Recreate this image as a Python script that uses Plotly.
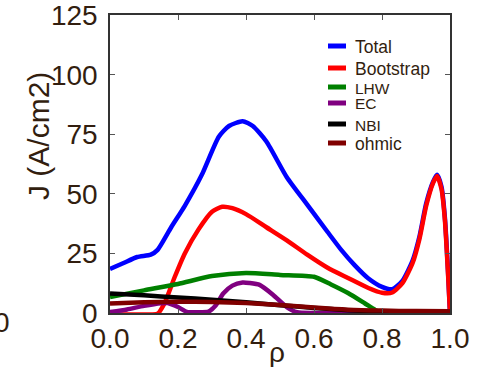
import plotly.graph_objects as go

# ---------------- data ----------------
rho_total = [0, .04, .08, .12, .14, .18, .22, .27, .32, .35, .39, .42, .46, .52, .58,
             .64, .68, .72, .76, .80, .83, .86, .89, .91, .93, .95, .962, .975, .985, .994, 1.0]
j_total = [18.5, 21, 23.5, 24.5, 26.5, 36, 45, 58, 74, 78.5, 80.5, 78.5, 72, 57, 45.5,
           34, 26.5, 20, 14.5, 11, 10, 13.5, 22, 32, 46, 55, 58, 53, 40, 18, 0]

rho_boot = [0, .05, .10, .14, .16, .19, .22, .26, .30, .33, .36, .40, .46, .52, .58,
            .64, .70, .76, .80, .83, .86, .89, .91, .93, .95, .962, .975, .985, .994, 1.0]
j_boot = [-0.6, -0.6, -0.6, -0.3, 4, 15, 25, 35, 42.5, 44.6, 44, 41.5, 36, 30.5, 24.5,
          19, 14.7, 10.5, 8.5, 8.6, 12.5, 21, 31, 45, 54.5, 57.5, 52, 39, 17, 0]

rho_lhw = [0, .1, .2, .3, .4, .5, .6, .65, .7, .75, .78, .8, .9, 1.0]
j_lhw = [6.7, 9.5, 12.2, 15.5, 16.8, 16, 15.2, 12, 8.4, 4, 1.3, 0, 0, 0]

rho_ec = [0, .05, .1, .15, .17, .2, .226, .26, .29, .31, .333, .36, .39, .41, .44,
          .48, .52, .55, .6, .8, 1.0]
j_ec = [0.4, 1.5, 3, 4.1, 4.2, 2.5, 0.5, 0.3, 0.6, 3, 8.2, 11.5, 12.8, 12.6, 11.8,
        7.6, 2.5, 0.3, 0, 0, 0]

rho_nbi = [0, .1, .2, .3, .4, .5, .6, .7, .8, .9, 1.0]
j_nbi = [8.2, 7.4, 6.5, 5.6, 4.5, 3.3, 2.1, 1.2, 0.5, 0.2, 0]

rho_ohm = [0, .1, .2, .3, .4, .5, .6, .7, .8, .9, 1.0]
j_ohm = [4, 4.5, 4.7, 4.6, 4.2, 3.4, 2.3, 1.4, 1.0, 0.8, 0.7]

series_names = ["Total", "Bootstrap", "LHW", "EC", "NBI", "ohmic"]
series_x = [rho_total, rho_boot, rho_lhw, rho_ec, rho_nbi, rho_ohm]
series_y = [j_total, j_boot, j_lhw, j_ec, j_nbi, j_ohm]

x_ticks = [0.0, 0.2, 0.4, 0.6, 0.8, 1.0]
y_ticks = [0, 25, 50, 75, 100, 125]

# ---------------- style ----------------
colors = ["#0000ff", "#ff0000", "#008000", "#800080", "#000000", "#800000"]
legend_font_sizes = [17.5, 17.5, 15.5, 15.5, 15.5, 17.5]
legend_rows_px = [46, 68, 87, 103, 124, 143]
text_color = "#321e0f"
font_family = "Liberation Sans, Arial, sans-serif"

W, H = 481, 367
ML, MR, MT, MB = 110, 31, 15, 54
PW, PH = W - ML - MR, H - MT - MB


def px_x(px):
    return (px - ML) / PW


def px_y(py):
    return (H - MB - py) / PH


fig = go.Figure()
for name, xs, ys, c in zip(series_names, series_x, series_y, colors):
    fig.add_trace(go.Scatter(x=xs, y=ys, mode="lines", name=name,
                             line=dict(color=c, width=4.5, shape="spline", smoothing=0.6),
                             showlegend=False))

axis_common = dict(showgrid=False, zeroline=False, showline=True, linecolor="#333333",
                   linewidth=1.5, mirror="ticks", ticks="inside", ticklen=5,
                   tickcolor="#555555", tickwidth=1, automargin=False,
                   tickfont=dict(size=28, color=text_color, family=font_family))

fig.update_xaxes(range=[0, 1], tickvals=x_ticks, ticktext=[f"{v:.1f}" for v in x_ticks],
                 ticklabelstandoff=0, **axis_common)
fig.update_yaxes(range=[0, 125.1], tickvals=y_ticks, ticktext=[str(v) for v in y_ticks],
                 ticklabelstandoff=5, **axis_common)

annotations = []
# axis titles
annotations.append(dict(text="J (A/cm2)", xref="paper", yref="paper", x=px_x(38), y=px_y(136),
                        showarrow=False, textangle=-90, xanchor="center", yanchor="middle",
                        font=dict(size=30, color=text_color, family=font_family)))
annotations.append(dict(text="ρ", xref="paper", yref="paper", x=px_x(277), y=px_y(352),
                        showarrow=False, xanchor="center", yanchor="middle",
                        font=dict(size=28, color=text_color, family=font_family)))
# stray clipped label at the far left
annotations.append(dict(text="0", xref="paper", yref="paper", x=px_x(1.6), y=px_y(322),
                        showarrow=False, xanchor="center", yanchor="middle",
                        font=dict(size=28, color=text_color, family=font_family)))

shapes = []
for name, c, fs, row in zip(series_names, colors, legend_font_sizes, legend_rows_px):
    shapes.append(dict(type="line", xref="paper", yref="paper", x0=px_x(328), x1=px_x(346),
                       y0=px_y(row), y1=px_y(row), line=dict(color=c, width=5)))
    annotations.append(dict(text=name, xref="paper", yref="paper", x=px_x(353), y=px_y(row + 1),
                            showarrow=False, xanchor="left", yanchor="middle",
                            font=dict(size=fs, color=text_color, family=font_family)))

fig.update_layout(width=W, height=H, margin=dict(l=ML, r=MR, t=MT, b=MB, pad=0, autoexpand=False),
                  paper_bgcolor="white", plot_bgcolor="white",
                  annotations=annotations, shapes=shapes, showlegend=False)

fig.write_html("out.html")
